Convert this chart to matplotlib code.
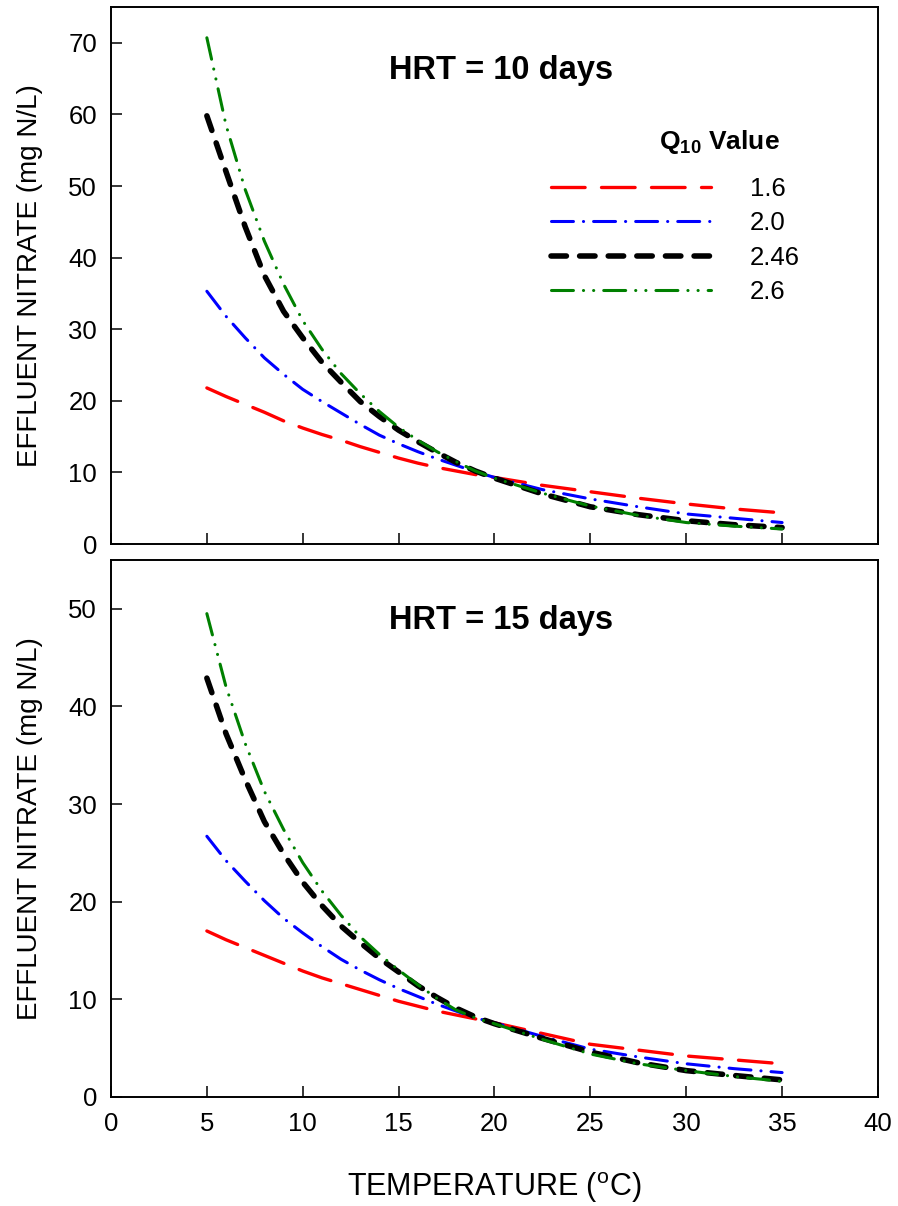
import matplotlib
matplotlib.use("Agg")
import matplotlib.pyplot as plt
from matplotlib.ticker import MultipleLocator

# temperature grid (deg C), shared by all curves
TEMP = [5, 6, 7, 8, 9, 10, 11, 12, 13, 14, 15, 16, 17, 18, 19, 20,
        22.5, 25, 27.5, 30, 32.5, 35]

# HRT = 10 days, effluent nitrate (mg N/L) per Q10 value
HRT10_Q16 = [21.8, 20.6, 19.5, 18.4, 17.2, 16.2, 15.3, 14.5, 13.6, 12.8, 12.0,
             11.3, 10.7, 10.2, 9.7, 9.3, 8.2, 7.3, 6.4, 5.6, 4.9, 4.35]
HRT10_Q20 = [35.3, 31.8, 28.8, 26.0, 23.7, 21.6, 19.9, 18.3, 16.7, 15.2, 14.0,
             12.9, 11.9, 11.0, 10.1, 9.3, 7.6, 6.3, 5.2, 4.2, 3.6, 3.0]
HRT10_Q246 = [59.8, 52.0, 44.3, 37.5, 32.5, 28.8, 25.4, 22.6, 19.9, 17.8, 15.9,
              14.3, 12.8, 11.4, 10.2, 9.2, 7.0, 5.2, 4.1, 3.25, 2.7, 2.3]
HRT10_Q26 = [70.7, 58.5, 49.5, 42.3, 36.3, 31.2, 27.2, 23.8, 21.0, 18.5, 16.3,
             14.5, 12.9, 11.5, 10.2, 9.2, 7.1, 5.3, 4.0, 3.0, 2.5, 2.1]

# HRT = 15 days
HRT15_Q16 = [17.0, 16.1, 15.3, 14.5, 13.7, 12.9, 12.2, 11.6, 11.0, 10.4, 9.8,
             9.3, 8.8, 8.4, 8.0, 7.6, 6.5, 5.4, 4.8, 4.2, 3.8, 3.4]
HRT15_Q20 = [26.7, 24.2, 22.1, 20.1, 18.3, 16.8, 15.4, 14.1, 13.0, 12.0, 11.1,
             10.3, 9.5, 8.8, 8.1, 7.6, 6.2, 4.9, 4.1, 3.4, 2.9, 2.5]
HRT15_Q246 = [42.9, 37.2, 32.5, 28.2, 24.9, 22.0, 19.6, 17.5, 15.8, 14.2, 12.8,
              11.4, 10.2, 9.1, 8.2, 7.5, 6.0, 4.6, 3.5, 2.7, 2.2, 1.75]
HRT15_Q26 = [49.5, 42.0, 36.2, 31.3, 27.4, 24.0, 21.1, 18.6, 16.4, 14.6, 13.0,
             11.5, 10.1, 8.9, 8.1, 7.5, 5.9, 4.4, 3.4, 2.7, 2.1, 1.6]

Q10_LABELS = ["1.6", "2.0", "2.46", "2.6"]
PANEL_TITLES = ["HRT = 10 days", "HRT = 15 days"]

# dash patterns in points (not scaled by line width), round caps
STYLES = [
    dict(color="#ff0000", lw=2.4, ls=(0, (24.2, 11.8))),
    dict(color="#0000ff", lw=2.2, ls=(0, (15.8, 7.2, 0.1, 7.2))),
    dict(color="#000000", lw=4.0, ls=(0, (11.1, 9.5))),
    dict(color="#008000", lw=2.2, ls=(0, (15.8, 7.2, 0.1, 7.2, 0.1, 7.2))),
]

plt.rcParams.update({
    "font.family": ["Liberation Sans", "DejaVu Sans"],
    "mathtext.fontset": "custom",
    "mathtext.rm": "Liberation Sans",
    "mathtext.bf": "Liberation Sans:bold",
    "lines.scale_dashes": False,
    "axes.linewidth": 1.4,
})

fig = plt.figure(figsize=(8.98, 12.06), dpi=100)
ax_top = fig.add_axes([0.1236, 0.5489, 0.8541, 0.4453])
ax_bot = fig.add_axes([0.1236, 0.0904, 0.8541, 0.4453])

panels = [
    (ax_top, [HRT10_Q16, HRT10_Q20, HRT10_Q246, HRT10_Q26], 75, 0.881),
    (ax_bot, [HRT15_Q16, HRT15_Q20, HRT15_Q246, HRT15_Q26], 55, 0.888),
]

for i, (ax, series, ymax, title_y) in enumerate(panels):
    for vals, lab, st in zip(series, Q10_LABELS, STYLES):
        ax.plot(TEMP, vals, color=st["color"], lw=st["lw"], linestyle=st["ls"],
                dash_capstyle="round", solid_capstyle="round", label=lab)
    ax.set_xlim(0, 40)
    ax.set_ylim(0, ymax)
    ax.xaxis.set_major_locator(MultipleLocator(5))
    ax.yaxis.set_major_locator(MultipleLocator(10))
    ax.tick_params(direction="in", length=7.7, width=1.1, labelsize=18.5, pad=10)
    ax.tick_params(axis="x", pad=11)
    ax.text(0.5085, title_y, PANEL_TITLES[i], transform=ax.transAxes,
            ha="center", va="center", fontsize=23.5, fontweight="bold")
    ax.set_ylabel("EFFLUENT NITRATE (mg N/L)", fontsize=20, va="center")
    ax.yaxis.set_label_coords(-0.106, 0.5)

ax_top.tick_params(labelbottom=False)
ax_bot.set_xlabel(r"TEMPERATURE ($^\mathrm{o}$C)", fontsize=22, va="center")
ax_bot.xaxis.set_label_coords(0.5, -0.168)

leg = ax_top.legend(loc="upper left", bbox_to_anchor=(0.5737, 0.684),
                    frameon=False, fontsize=18.5, handlelength=6.23,
                    handletextpad=1.5, labelspacing=0.41, borderpad=0,
                    borderaxespad=0)
ax_top.text(0.8722, 0.7486, r"$\mathbf{Q_{10}}$ Value", transform=ax_top.transAxes,
            ha="right", va="center", fontsize=19, fontweight="bold")

fig.savefig("out.png", dpi=100)
